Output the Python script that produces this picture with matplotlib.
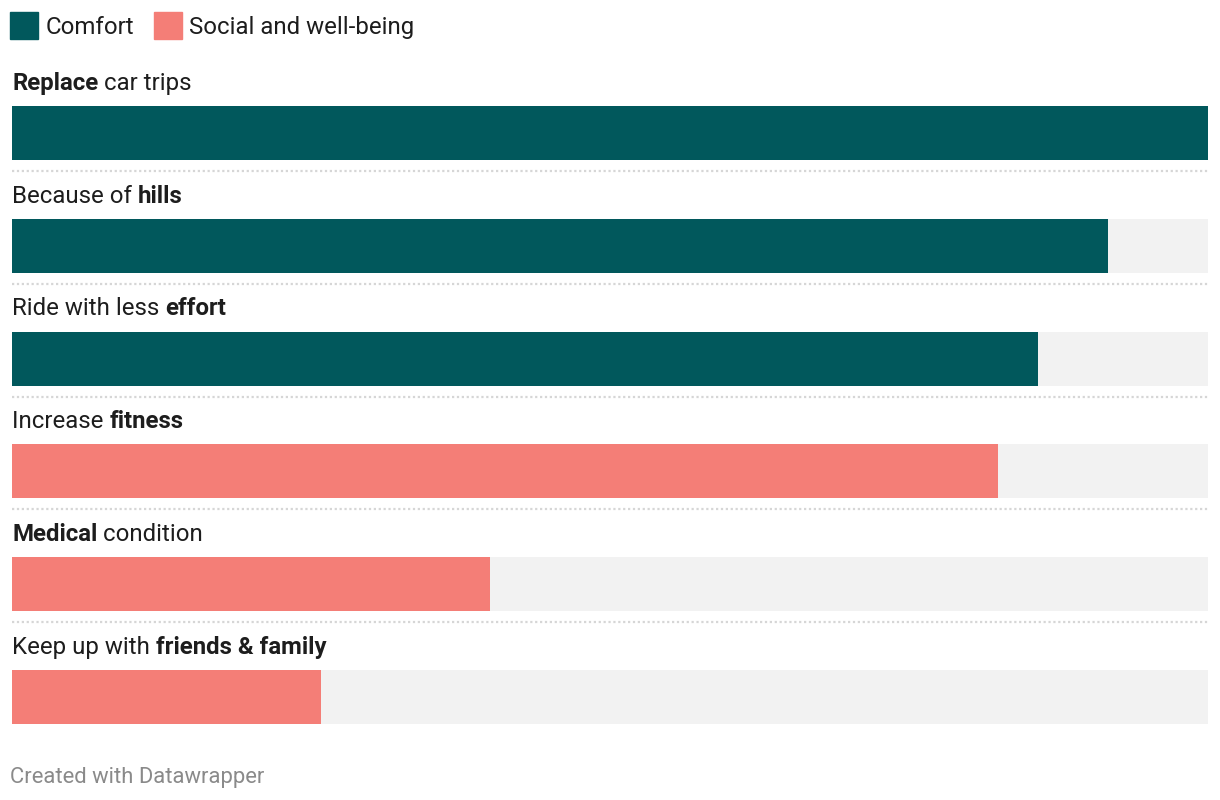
import matplotlib.pyplot as plt
from matplotlib.patches import Patch

plt.rcParams['font.family'] = ['Roboto', 'DejaVu Sans']

# label pieces: (normal before, bold, normal after)
labels = [
    ('', 'Replace', ' car trips'),
    ('Because of ', 'hills', ''),
    ('Ride with less ', 'effort', ''),
    ('Increase ', 'fitness', ''),
    ('', 'Medical', ' condition'),
    ('Keep up with ', 'friends & family', ''),
]
values = [100, 91.6, 85.8, 82.4, 40.0, 25.8]
groups = ['Comfort', 'Comfort', 'Comfort', 'Social and well-being',
          'Social and well-being', 'Social and well-being']
group_colors = {'Comfort': '#01585c', 'Social and well-being': '#f47e77'}

W, H = 1220, 800
fig = plt.figure(figsize=(W / 100, H / 100), dpi=100)
ax = fig.add_axes([12 / W, 1 - 753.4 / H, 1196 / W, (753.4 - 76.6) / H])
ax.set_xlim(0, 100)
ax.set_ylim(5.5, -0.5)
ax.axis('off')

ypos = list(range(len(values)))
ax.barh(ypos, [100] * len(values), height=0.48, color='#f2f2f2')
ax.barh(ypos, values, height=0.48, color=[group_colors[g] for g in groups])

txt_col = '#1d1d1d'
fs = 17.3
for i, (pre, bold, post) in enumerate(labels):
    pieces = [(s, w) for s, w in [(pre, 'normal'), (bold, 'bold'), (post, 'normal')] if s]
    prev = None
    for s, w in pieces:
        if prev is None:
            prev = ax.text(0, i - 0.44, s, fontsize=fs, fontweight=w, color=txt_col,
                           va='center', ha='left')
        else:
            prev = ax.annotate(s, xy=(1, 0), xycoords=prev, fontsize=fs, fontweight=w,
                               color=txt_col, va='bottom', ha='left')
    if i < len(values) - 1:
        ax.axhline(i + 0.337, color='#d6d6d6', lw=1.6, ls=(0, (1, 1.2)))

handles = [Patch(color=c, label=g) for g, c in group_colors.items()]
fig.legend(handles=handles, loc='upper left', bbox_to_anchor=(10 / W, 1 - 12 / H),
           ncol=2, frameon=False, fontsize=fs, handlelength=1.17, handleheight=1.35,
           handletextpad=0.3, columnspacing=0.82, borderpad=0, borderaxespad=0,
           labelcolor=txt_col)

fig.text(10 / W, 1 - 777 / H, 'Created with Datawrapper', fontsize=15.8,
         color='#8a8a8a', va='center', ha='left')

fig.savefig('out.png', dpi=100, facecolor='white')
